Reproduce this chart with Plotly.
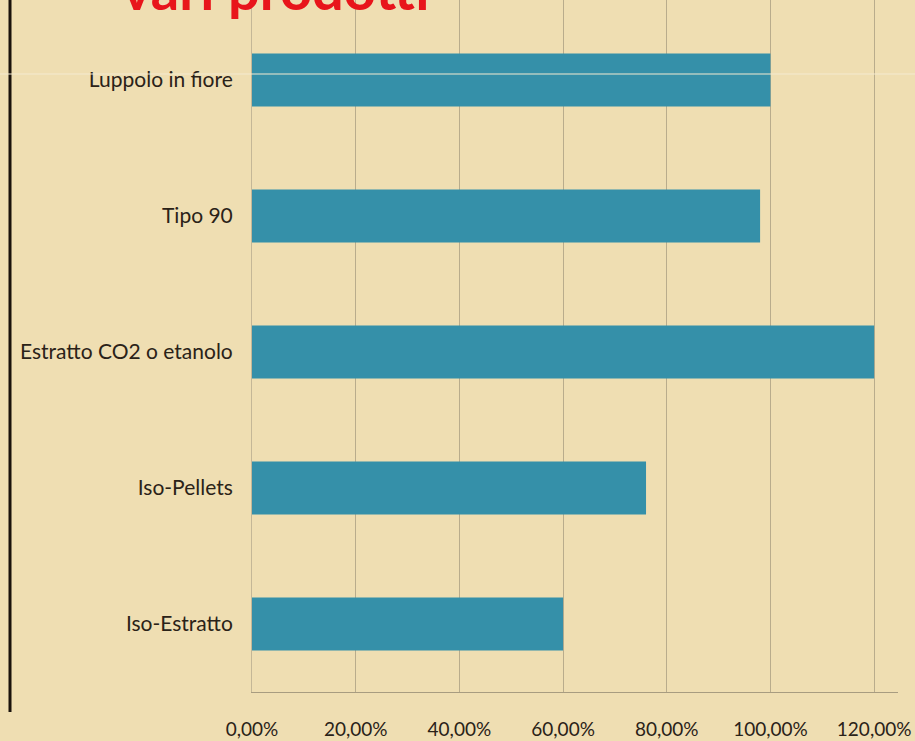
import plotly.graph_objects as go

# Products and their relative values (fraction of the reference product)
prodotti = ["Luppolo in fiore", "Tipo 90", "Estratto CO2 o etanolo", "Iso-Pellets", "Iso-Estratto"]
valori = [1.00, 0.98, 1.20, 0.76, 0.60]
tick_valori = [0.0, 0.2, 0.4, 0.6, 0.8, 1.0, 1.2]

bg = "#EFDEB2"
bar_col = "#3590A9"
grid_col = "#B9AC8C"
text_col = "#2A2218"
font_family = "Lato, 'Open Sans', sans-serif"

fig = go.Figure(
    go.Bar(
        x=valori,
        y=prodotti,
        orientation="h",
        marker=dict(color=bar_col, line=dict(width=0)),
        width=0.39,
        hoverinfo="skip",
    )
)

fig.update_layout(
    width=915,
    height=741,
    margin=dict(l=252, r=17, t=0, b=49),
    paper_bgcolor=bg,
    plot_bgcolor=bg,
    separators=",.",
    showlegend=False,
    font=dict(family=font_family, size=18, color=text_col),
)

fig.update_xaxes(
    range=[0, 1.246],
    tickvals=tick_valori,
    tickformat=".2%",
    showgrid=True,
    gridcolor=grid_col,
    gridwidth=1,
    zeroline=False,
    showline=True,
    linecolor="#A89C80",
    linewidth=1,
    ticks="",
    ticklabelstandoff=20,
    tickfont=dict(size=19, family=font_family, color=text_col),
    fixedrange=True,
)

fig.update_yaxes(
    type="category",
    range=[4.5, -0.588],
    showgrid=False,
    zeroline=False,
    showline=True,
    linecolor="#C4B797",
    linewidth=1,
    ticks="",
    ticklabelstandoff=14,
    tickfont=dict(size=21, family=font_family, color=text_col),
    fixedrange=True,
)

# Slide title, partly above the visible area
fig.add_annotation(
    text="<b>vari prodotti</b>",
    xref="paper", yref="paper",
    x=-0.205, y=1.0,
    xanchor="left", yanchor="bottom",
    yshift=-24,
    showarrow=False,
    font=dict(size=56, color="#E8151B", family=font_family),
)

# Vertical rule on the slide's left edge
fig.add_shape(
    type="line",
    xref="paper", yref="paper",
    x0=-0.3746, x1=-0.3746, y0=-0.029, y1=1.0,
    line=dict(color="#1A120C", width=3),
)

# Thin light horizontal rule crossing the slide
fig.add_shape(
    type="line",
    xref="paper", yref="paper",
    x0=-0.39, x1=1.03, y0=(692 - 74) / 692, y1=(692 - 74) / 692,
    line=dict(color="#F4EAD0", width=1),
    layer="above",
)

fig.write_html("out.html")
